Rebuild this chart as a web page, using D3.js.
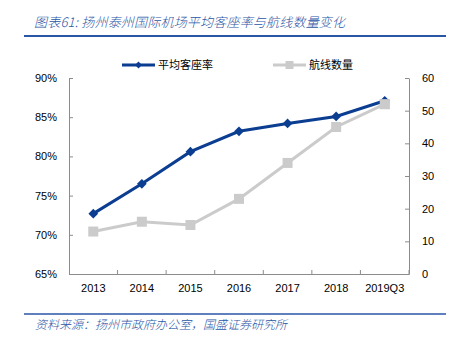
<!DOCTYPE html>
<html>
<head>
<meta charset="utf-8">
<script src="https://cdn.jsdelivr.net/npm/d3@7"></script>
<style>
  html, body { margin: 0; padding: 0; background: #fff; }
  svg { display: block; }
  .cjk { font-family: "Noto Sans CJK SC", sans-serif; }
  .tick text { font-family: "Liberation Sans", Arial, sans-serif; font-size: 11px; fill: #000; }
</style>
</head>
<body>
<svg id="chart" width="456" height="341"></svg>
<script>
// Yangzhou Taizhou International Airport: average load factor and number of routes
const years = ["2013", "2014", "2015", "2016", "2017", "2018", "2019Q3"];
const loadFactor = [72.7, 76.5, 80.6, 83.2, 84.2, 85.1, 87.1];   // %
const routeCount = [13, 16, 15, 23, 34, 45, 52];
const leftTicks = [65, 70, 75, 80, 85, 90];
const rightTicks = [0, 10, 20, 30, 40, 50, 60];

const titleText = "图表61:  扬州泰州国际机场平均客座率与航线数量变化";
const sourceText = "资料来源：扬州市政府办公室，国盛证券研究所";
const seriesNames = ["平均客座率", "航线数量"];

const blue = "#0B3D91";
const grey = "#CBCBCB";
const axisGrey = "#8C8C8C";
const headBlue = "#2A56A6";

const svg = d3.select("#chart");
const plot = { left: 69, right: 409, top: 78, bottom: 274 };

// header and footer rules
svg.append("text").attr("class", "cjk")
  .attr("x", 34).attr("y", 27)
  .attr("font-size", 13).attr("font-style", "italic").attr("font-weight", 300)
  .attr("letter-spacing", 0.2)
  .attr("fill", headBlue)
  .text(titleText);
svg.append("line").attr("x1", 24).attr("x2", 446).attr("y1", 36).attr("y2", 36)
  .attr("stroke", headBlue).attr("stroke-width", 2);

svg.append("line").attr("x1", 24).attr("x2", 446).attr("y1", 314).attr("y2", 314)
  .attr("stroke", headBlue).attr("stroke-width", 1.5);
svg.append("text").attr("class", "cjk")
  .attr("x", 35).attr("y", 329)
  .attr("font-size", 12).attr("font-style", "italic").attr("font-weight", 300)
  .attr("fill", headBlue)
  .text(sourceText);

// scales
const x = d3.scaleBand().domain(years).range([plot.left, plot.right]);
const yL = d3.scaleLinear().domain([65, 90]).range([plot.bottom, plot.top]);
const yR = d3.scaleLinear().domain([0, 60]).range([plot.bottom, plot.top]);
const cx = d => x(d) + x.bandwidth() / 2;

// axes
const styleAxis = g => {
  g.select(".domain").attr("stroke", axisGrey);
  g.selectAll(".tick line").attr("stroke", axisGrey);
};

svg.append("g").attr("transform", `translate(${plot.left},0)`)
  .call(d3.axisLeft(yL).tickValues(leftTicks).tickFormat(d => d + "%").tickSizeInner(-4).tickSizeOuter(0).tickPadding(12))
  .call(styleAxis);

svg.append("g").attr("transform", `translate(${plot.right},0)`)
  .call(d3.axisRight(yR).tickValues(rightTicks).tickSizeInner(-4).tickSizeOuter(0).tickPadding(13))
  .call(styleAxis);

const xAxis = d3.axisBottom(x).tickSize(0).tickPadding(10);
const gx = svg.append("g").attr("transform", `translate(0,${plot.bottom})`)
  .call(xAxis).call(styleAxis);
// category separators as inward ticks
gx.selectAll(".sep").data(years.slice(1)).join("line")
  .attr("class", "sep")
  .attr("x1", d => x(d)).attr("x2", d => x(d))
  .attr("y1", 0).attr("y2", -4)
  .attr("stroke", axisGrey);
gx.append("line").attr("x1", plot.right).attr("x2", plot.right).attr("y1", 0).attr("y2", -4).attr("stroke", axisGrey);

// route count series (right axis)
const lineR = d3.line().x((d, i) => cx(years[i])).y(d => yR(d));
svg.append("path").datum(routeCount)
  .attr("d", lineR).attr("fill", "none")
  .attr("stroke", grey).attr("stroke-width", 3);
const sq = 10;
svg.selectAll(".sq").data(routeCount).join("rect")
  .attr("class", "sq")
  .attr("x", (d, i) => cx(years[i]) - sq / 2)
  .attr("y", d => yR(d) - sq / 2)
  .attr("width", sq).attr("height", sq)
  .attr("fill", grey);

// load factor series (left axis)
const lineL = d3.line().x((d, i) => cx(years[i])).y(d => yL(d));
svg.append("path").datum(loadFactor)
  .attr("d", lineL).attr("fill", "none")
  .attr("stroke", blue).attr("stroke-width", 3);
const diamond = d3.symbol().type(d3.symbolDiamond2).size(60);
svg.selectAll(".dm").data(loadFactor).join("path")
  .attr("class", "dm")
  .attr("transform", (d, i) => `translate(${cx(years[i])},${yL(d)})`)
  .attr("d", diamond)
  .attr("fill", blue);

// the last grey square sits on top of the blue marker
svg.append("rect")
  .attr("x", cx(years[6]) - sq / 2).attr("y", yR(routeCount[6]) - sq / 2)
  .attr("width", sq).attr("height", sq).attr("fill", grey);

// legend
const legend = svg.append("g");
const items = [
  { name: seriesNames[0], color: blue, x0: 122, mark: "diamond" },
  { name: seriesNames[1], color: grey, x0: 273, mark: "square" }
];
items.forEach(it => {
  const g = legend.append("g").attr("transform", `translate(${it.x0},65)`);
  g.append("line").attr("x1", 0).attr("x2", 33).attr("stroke", it.color).attr("stroke-width", 3);
  if (it.mark === "diamond") {
    g.append("path").attr("transform", "translate(16.5,0)")
      .attr("d", d3.symbol().type(d3.symbolDiamond2).size(30)).attr("fill", it.color);
  } else {
    g.append("rect").attr("x", 12.5).attr("y", -4).attr("width", 8).attr("height", 8).attr("fill", it.color);
  }
  g.append("text").attr("class", "cjk").attr("x", 36).attr("y", 0).attr("dy", "0.35em")
    .attr("font-size", 11).attr("fill", "#000").text(it.name);
});
</script>
</body>
</html>
